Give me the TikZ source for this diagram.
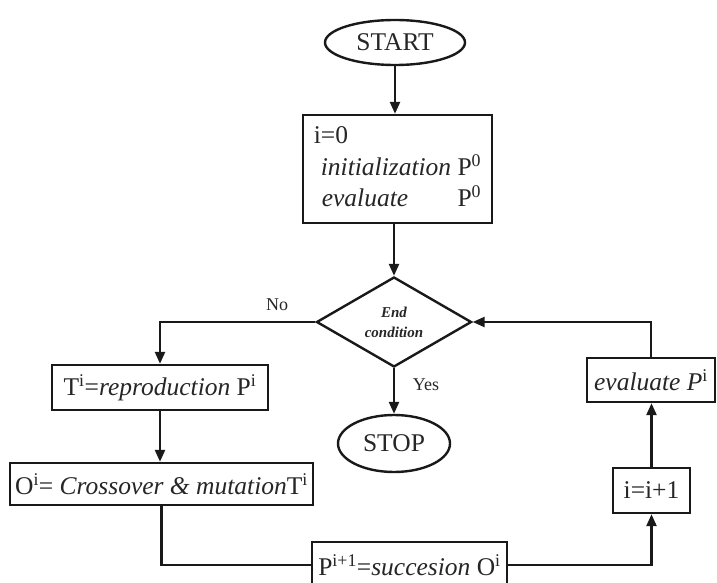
\documentclass[tikz,border=0pt]{standalone}
\usepackage{fontspec}
\setmainfont{Liberation Serif}
\usetikzlibrary{shapes.geometric,arrows.meta}
\begin{document}
\begin{tikzpicture}[x=1pt,y=-1pt,
  line width=2.4pt,
  every node/.style={inner sep=0pt, text=black!85, font=\fontsize{25.5}{31.5}\selectfont},
  box/.style={draw=black!90, rectangle, anchor=center},
  oval/.style={draw=black!90, ellipse},
  choice/.style={draw=black!90, diamond, aspect=1.7, align=center},
  lbl/.style={font=\fontsize{18}{20}\selectfont},
  arr/.style={draw=black!90, -{Triangle[length=12pt,width=10pt]}},
  lin/.style={draw=black!90},
]
\useasboundingbox (0,0) rectangle (717,583);
\fill[white] (0,0) rectangle (717,583);
\clip (0,0) rectangle (717,583);

\node[oval, minimum width=140, minimum height=45] (start) at (395,42.5) {START};
\node[box, minimum width=189, minimum height=108] (init) at (397.5,169)
  {\begin{tabular}{@{}l@{\ }l@{}}i=0 & \\ \hspace{7pt}\textit{initialization} & P\textsuperscript{0}\\ \hspace{8pt}\textit{evaluate} & P\textsuperscript{0}\end{tabular}};
\node[choice, minimum width=155, minimum height=90,
  font=\fontsize{15}{20}\selectfont\bfseries\itshape] (cond) at (394,322) {End\\condition};
\node[oval, minimum width=112, minimum height=57] (stop) at (394,443.5) {STOP};
\node[box, minimum width=216, minimum height=45] (repro) at (160,387.5)
  {T\textsuperscript{i}=\textit{reproduction} P\textsuperscript{i}};
\node[box, minimum width=303, minimum height=42] (cross) at (161.5,484)
  {O\textsuperscript{i}= \textit{Crossover \& mutation}T\textsuperscript{i}};
\node[box, minimum width=195, minimum height=46] (succ) at (409.5,565)
  {P\textsuperscript{i+1}=\textit{succesion} O\textsuperscript{i}};
\node[box, minimum width=128, minimum height=44] (eval) at (651,380)
  {\textit{evaluate P}\textsuperscript{i}};
\node[box, minimum width=77, minimum height=45] (inc) at (651.5,490.5) {i=i+1};

\node[lbl] (no) at (277,305) {No};
\node[lbl] (yes) at (426,385) {Yes};

\draw[arr] (start.south) -- (start.south |- init.north);
\draw[arr] (init.south -| cond.north) -- (cond.north);
\draw[arr] (cond.west) -| (repro.north);
\draw[arr] (cond.south) -- (stop.north);
\draw[arr] (repro.south) -- (repro.south |- cross.north);
\draw[lin] (cross.south) |- (succ.west);
\draw[arr] (succ.east) -| (inc.south);
\draw[arr] (inc.north) -- (eval.south -| inc.north);
\draw[arr] (eval.north) |- (cond.east);
\end{tikzpicture}
\end{document}
